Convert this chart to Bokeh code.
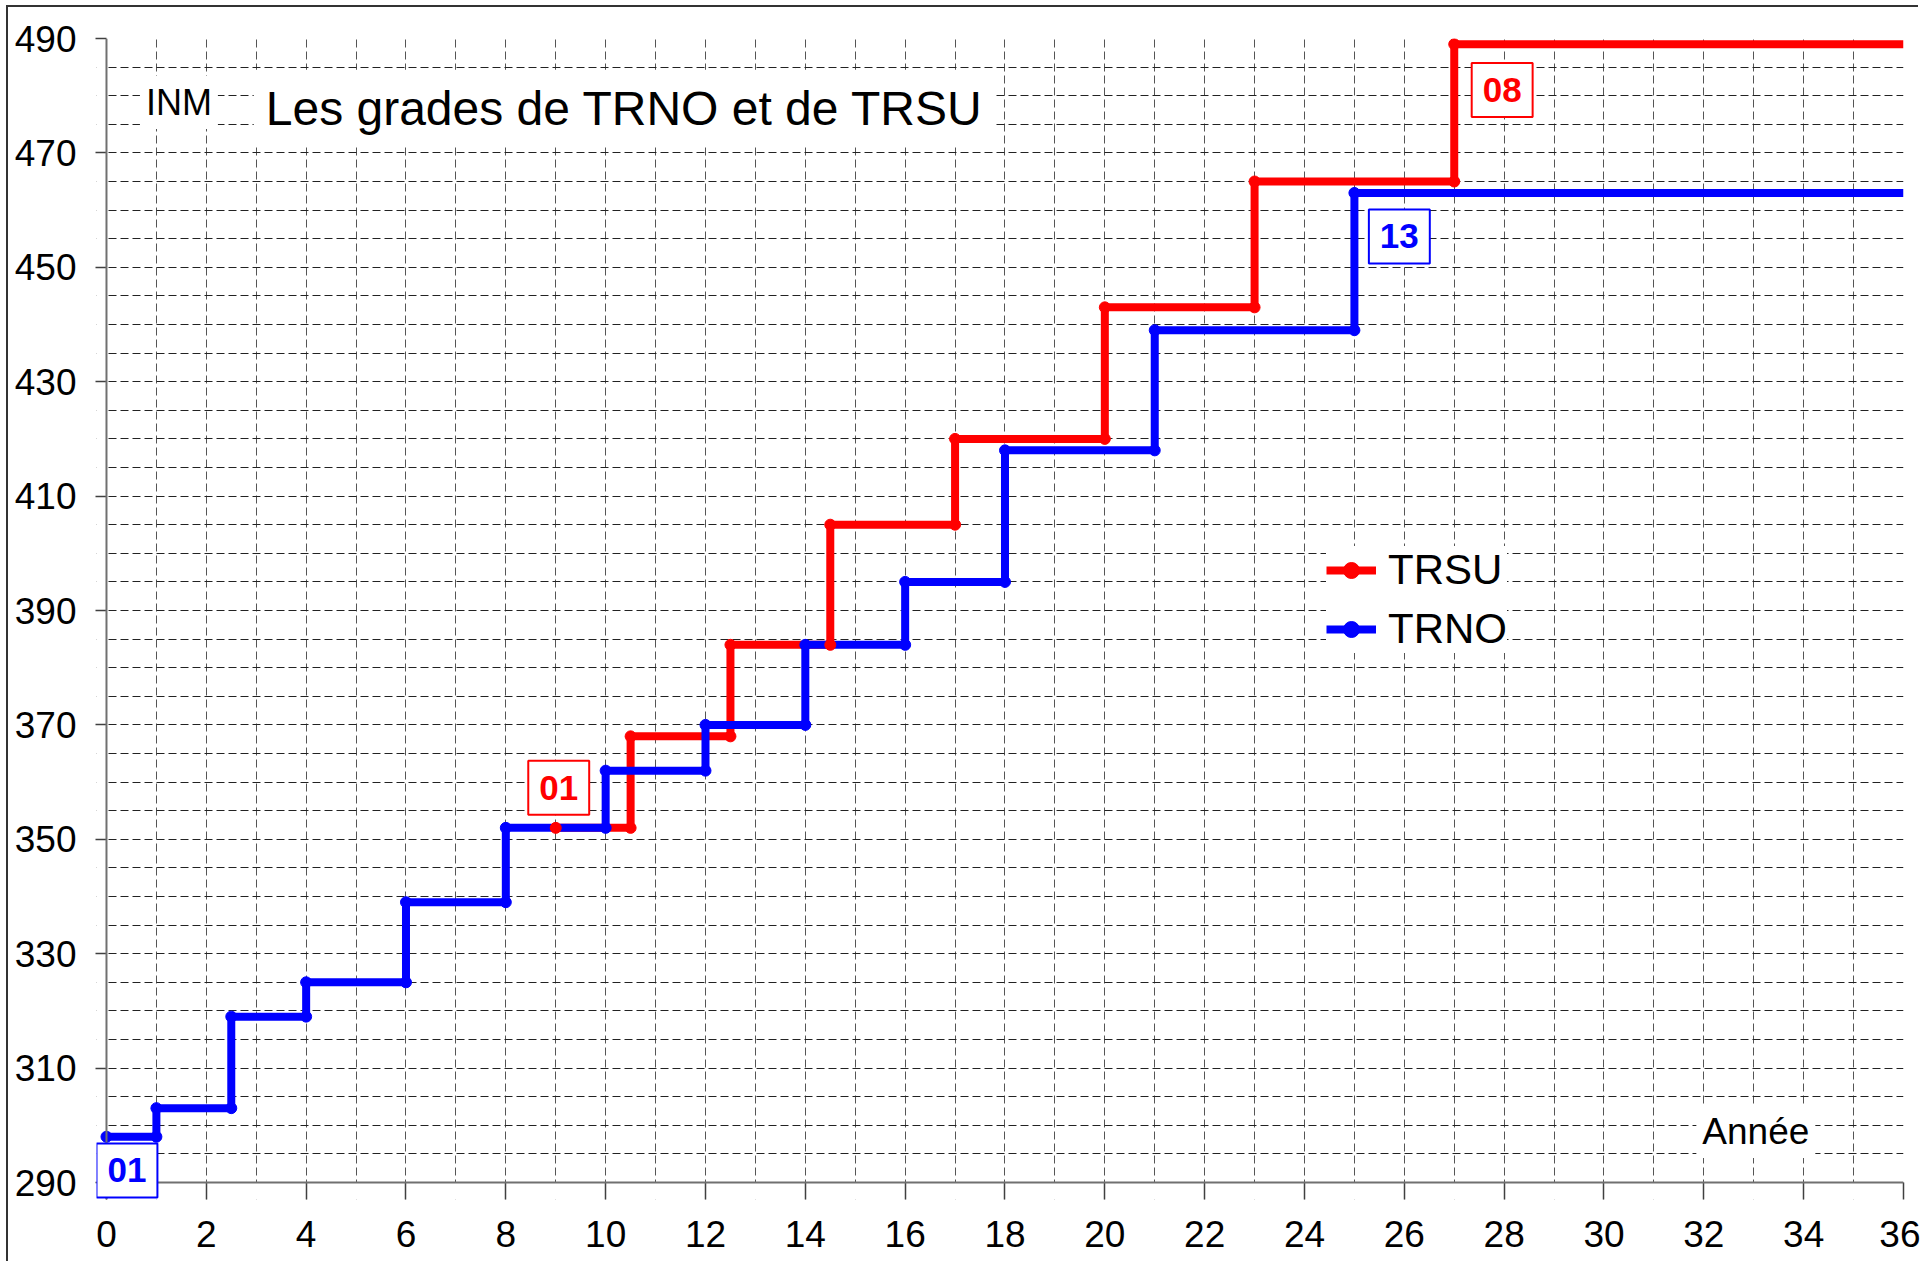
from bokeh.plotting import figure
from bokeh.models import (Label, Legend, LegendItem, SingleIntervalTicker, FixedTicker,
                          Range1d, BoxAnnotation, Span)
from bokeh.embed import file_html
from bokeh.resources import INLINE

# ---- data ----
trno_years = [0, 1, 2.5, 4, 6, 8, 10, 12, 14, 16, 18, 21, 25]
trno_inm = [298, 303, 319, 325, 339, 352, 362, 370, 384, 395, 418, 439, 463]
trsu_years = [9, 10.5, 12.5, 14.5, 17, 20, 23, 27]
trsu_inm = [352, 368, 384, 405, 420, 443, 465, 489]
year_end = 36

x_ticks = [0, 2, 4, 6, 8, 10, 12, 14, 16, 18, 20, 22, 24, 26, 28, 30, 32, 34, 36]
y_ticks = [290, 310, 330, 350, 370, 390, 410, 430, 450, 470, 490]

title_text = "Les grades de TRNO et de TRSU"
y_unit_text = "INM"
x_unit_text = "Année"

# grade-box annotations
box_texts = ["01", "01", "08", "13"]
box_x = [0.41, 9.06, 27.96, 25.9]
box_y = [292.1, 359.0, 481.0, 455.4]
box_colors = ["#0000FF", "#FF0000", "#FF0000", "#0000FF"]

FONT = "Liberation Sans"
RED = "#FF0000"
BLUE = "#0000FF"
AXIS_GREY = "#707070"
X0, Y0 = 0, 290          # where the axes cross
Y_TOP = 490
X_START = -0.2           # small margins so the "01" box is not cut by the frame
Y_START = 287.03

p = figure(width=1912, height=1256,
           x_range=Range1d(X_START, year_end), y_range=Range1d(Y_START, Y_TOP),
           output_backend="svg", toolbar_location=None,
           min_border_left=88, min_border_right=17,
           min_border_top=31, min_border_bottom=64)
p.outline_line_color = None
p.background_fill_color = "white"
p.border_fill_color = "white"
p.styles = {"margin-left": "8px", "margin-top": "7px",
            "box-shadow": "-2px -2px 0 0 #333333"}

# axes (lines are drawn as spans at the crossing values)
p.xaxis.ticker = FixedTicker(ticks=x_ticks)
p.yaxis.ticker = FixedTicker(ticks=y_ticks)
for ax in (p.xaxis[0], p.yaxis[0]):
    ax.axis_line_color = None
    ax.major_tick_line_color = "#404040"
    ax.major_tick_line_width = 1.5
    ax.minor_tick_line_color = None
    ax.major_label_text_font = FONT
    ax.major_label_text_font_size = "37px"
    ax.major_label_text_color = "black"
p.xaxis.major_tick_in = 17
p.xaxis.major_tick_out = 0
p.xaxis.major_label_standoff = 21
p.yaxis.major_tick_in = 10
p.yaxis.major_tick_out = 1
p.yaxis.major_label_standoff = 19

# grids
p.xgrid.ticker = SingleIntervalTicker(interval=1)
p.ygrid.ticker = SingleIntervalTicker(interval=5)
p.xgrid.grid_line_color = "#555555"
p.ygrid.grid_line_color = "#222222"
for g in (p.xgrid[0], p.ygrid[0]):
    g.grid_line_dash = "8 4"
    g.grid_line_width = 1

# white masks outside the axes
p.add_layout(BoxAnnotation(left=X_START, right=year_end, bottom=Y_START, top=Y0,
                           fill_color="white", fill_alpha=1, line_color=None, level="underlay"))
p.add_layout(BoxAnnotation(left=X_START, right=X0, bottom=Y_START, top=Y_TOP,
                           fill_color="white", fill_alpha=1, line_color=None, level="underlay"))
p.add_layout(Span(location=Y0, dimension="width", line_color=AXIS_GREY, line_width=2))
p.add_layout(Span(location=X0, dimension="height", line_color=AXIS_GREY, line_width=2))


def corners(years, inm):
    mx, my = [], []
    for i in range(len(years)):
        mx.append(years[i]); my.append(inm[i])
        if i + 1 < len(years):
            mx.append(years[i + 1]); my.append(inm[i])
    return mx, my


red_line = p.step(x=trsu_years + [year_end], y=trsu_inm + [trsu_inm[-1]], mode="after",
                  line_color=RED, line_width=8)
blue_line = p.step(x=trno_years + [year_end], y=trno_inm + [trno_inm[-1]], mode="after",
                   line_color=BLUE, line_width=8)
rx, ry = corners(trsu_years, trsu_inm)
bx, by = corners(trno_years, trno_inm)
red_pts = p.scatter(rx, ry, size=11, color=RED)
blue_pts = p.scatter(bx, by, size=11, color=BLUE)

legend = Legend(items=[LegendItem(label="TRSU", renderers=[red_line, red_pts]),
                       LegendItem(label="TRNO", renderers=[blue_line, blue_pts])],
                location=(1230, 546))
legend.margin = 0
legend.padding = 15
legend.spacing = 11
legend.glyph_width = 50
legend.glyph_height = 40
legend.label_height = 40
legend.label_standoff = 12
legend.label_text_font = FONT
legend.label_text_font_size = "42px"
legend.label_text_color = "black"
legend.border_line_color = None
legend.background_fill_color = "white"
legend.background_fill_alpha = 1
p.add_layout(legend, "center")

# texts
p.add_layout(Label(x=2.95, y=477.8, text=title_text, text_font=FONT, text_font_size="48px",
                   text_color="black", text_align="left", text_baseline="middle",
                   background_fill_color="white", padding=12))
p.add_layout(Label(x=0.67, y=478.8, text=y_unit_text, text_font=FONT, text_font_size="36px",
                   text_color="black", text_align="left", text_baseline="middle",
                   background_fill_color="white", padding=6))
p.add_layout(Label(x=31.85, y=298.9, text=x_unit_text, text_font=FONT, text_font_size="37px",
                   text_color="black", text_align="left", text_baseline="middle",
                   background_fill_color="white", padding=6))

for t, x, y, c in zip(box_texts, box_x, box_y, box_colors):
    p.add_layout(Label(x=x, y=y, text=t, text_font=FONT, text_font_size="35px",
                       text_font_style="bold", text_color=c,
                       text_align="center", text_baseline="middle",
                       background_fill_color="white", border_line_color=c,
                       border_line_width=2,
                       padding=dict(left=11, right=11, top=15, bottom=15)))

open("out.html", "w").write(file_html(p, INLINE))
